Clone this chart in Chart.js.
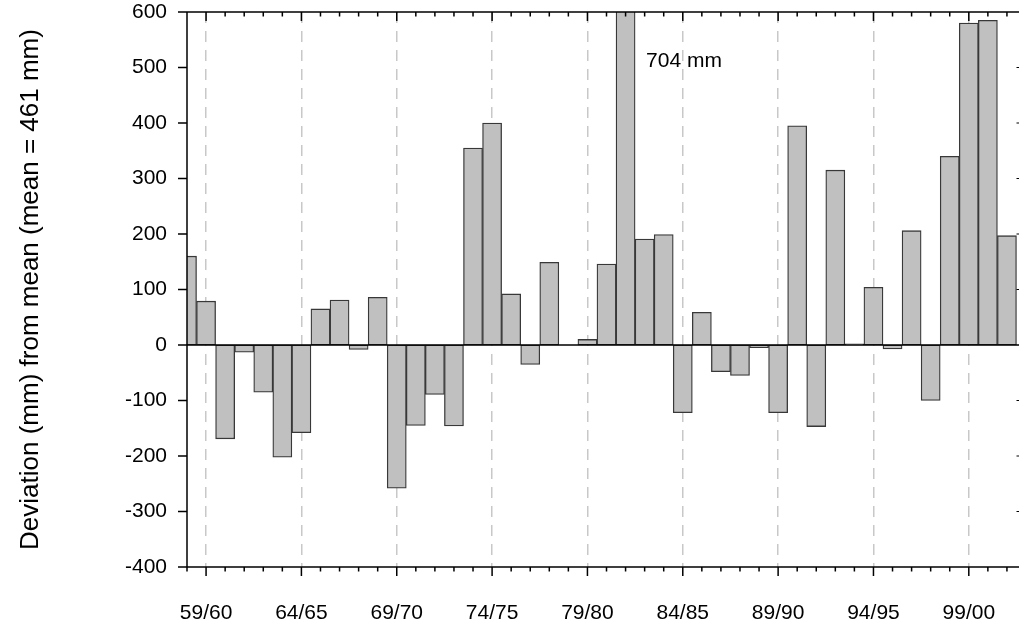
<!DOCTYPE html>
<html>
<head>
<meta charset="utf-8">
<script src="https://cdn.jsdelivr.net/npm/chart.js@4"></script>
<style>
  html, body { margin: 0; padding: 0; background: #fff; }
</style>
</head>
<body>
<canvas id="chart" width="1019" height="625"></canvas>
<script>
// Rainfall seasons, 58/59 through 01/02
const seasons = [
    '58/59', '59/60', '60/61', '61/62', '62/63', '63/64', '64/65', '65/66', '66/67', '67/68',
    '68/69', '69/70', '70/71', '71/72', '72/73', '73/74', '74/75', '75/76', '76/77', '77/78',
    '78/79', '79/80', '80/81', '81/82', '82/83', '83/84', '84/85', '85/86', '86/87', '87/88',
    '88/89', '89/90', '90/91', '91/92', '92/93', '93/94', '94/95', '95/96', '96/97', '97/98',
    '98/99', '99/00', '00/01', '01/02'
];

// Deviation (mm) from the 461 mm mean
const deviation = [
    160, 79, -169, -13, -85, -202, -158, 65, 81, -8,
    86, -258, -145, -89, -146, 355, 400, 92, -35, 149,
    0, 10, 146, 704, 191, 199, -122, 59, -48, -55,
    -5, -122, 395, -147, 315, 2, 104, -7, 206, -100,
    340, 580, 585, 197
];

const majorLabels = ['59/60', '64/65', '69/70', '74/75', '79/80', '84/85', '89/90', '94/95', '99/00'];
const yTicks = [-400, -300, -200, -100, 0, 100, 200, 300, 400, 500, 600];
const peakIndex = 23;   // 81/82 runs off the top

const FONT = '"Liberation Sans", Arial, sans-serif';
const isMajor = i => majorLabels.includes(seasons[i]);

// keep the plot box where the fixed axis sizes put it
const noPad = s => {
    s.paddingLeft = 0;
    s.paddingRight = 0;
    s.paddingTop = 0;
    s.paddingBottom = 0;
};

// axis frame, tick marks and the off-scale note
const framePlugin = {
    id: 'frame',
    afterDatasetsDraw(chart) {
        const { ctx, chartArea: a, scales: { x, y } } = chart;
        ctx.save();
        ctx.strokeStyle = '#000';
        ctx.lineWidth = 1.5;
        ctx.beginPath();
        [600, 0, -400].forEach(v => {
            const py = y.getPixelForValue(v);
            ctx.moveTo(a.left - 9, py);
            ctx.lineTo(chart.width, py);
        });
        ctx.moveTo(a.left, a.top);
        ctx.lineTo(a.left, a.bottom);
        yTicks.forEach(v => {
            const py = y.getPixelForValue(v);
            ctx.moveTo(a.left - 9, py);
            ctx.lineTo(a.left, py);
        });
        seasons.forEach((s, i) => {
            const px = x.getPixelForValue(i);
            const len = isMajor(i) ? 9 : 4.5;
            ctx.moveTo(px, a.top);
            ctx.lineTo(px, a.top + len);
            ctx.moveTo(px, a.bottom);
            ctx.lineTo(px, a.bottom + len);
        });
        ctx.stroke();

        // stubs of the right-hand axis ticks
        ctx.lineWidth = 1;
        ctx.beginPath();
        yTicks.filter(v => v !== 0 && v !== 600 && v !== -400).forEach(v => {
            const py = y.getPixelForValue(v);
            ctx.moveTo(chart.width - 2.5, py);
            ctx.lineTo(chart.width, py);
        });
        ctx.stroke();

        ctx.font = '21px ' + FONT;
        ctx.fillStyle = '#000';
        ctx.textBaseline = 'middle';
        ctx.textAlign = 'left';
        ctx.fillText(deviation[peakIndex] + ' mm', x.getPixelForValue(peakIndex + 0.5) + 11, y.getPixelForValue(512));
        ctx.restore();
    }
};

new Chart(document.getElementById('chart'), {
    type: 'bar',
    data: {
        datasets: [{
            data: deviation.map((v, i) => ({ x: i, y: v })),
            backgroundColor: '#c0c0c0',
            borderColor: '#383838',
            borderWidth: 1.3,
            borderSkipped: false,
            barPercentage: 1,
            categoryPercentage: 1
        }]
    },
    options: {
        responsive: false,
        animation: false,
        layout: { padding: { top: 12, right: 1, left: 0, bottom: 0 } },
        plugins: {
            legend: { display: false },
            tooltip: { enabled: false }
        },
        scales: {
            x: {
                type: 'linear',
                min: 0,
                max: 43.58,
                offset: false,
                afterFit: s => { s.height = 58; noPad(s); },
                afterBuildTicks: s => { s.ticks = seasons.map((_, i) => ({ value: i })); },
                grid: {
                    offset: false,
                    drawTicks: false,
                    color: c => (c.tick && isMajor(Math.round(c.tick.value))) ? '#c8c8c8' : 'rgba(0,0,0,0)',
                    lineWidth: 1.5
                },
                border: { display: false, dash: [11, 8] },
                ticks: {
                    autoSkip: false,
                    maxRotation: 0,
                    padding: 34,
                    color: '#000',
                    font: { family: FONT, size: 21 },
                    callback: v => {
                        const i = Math.round(v);
                        return isMajor(i) ? seasons[i] : '';
                    }
                }
            },
            y: {
                min: -400,
                max: 600,
                afterFit: s => { s.width = 187; noPad(s); },
                afterBuildTicks: s => { s.ticks = yTicks.map(v => ({ value: v })); },
                grid: { display: false, drawTicks: false },
                border: { display: false },
                ticks: {
                    padding: 20,
                    color: '#000',
                    font: { family: FONT, size: 21 }
                },
                title: {
                    display: true,
                    text: 'Deviation (mm) from mean (mean = 461 mm)',
                    color: '#000',
                    font: { family: FONT, size: 26 },
                    padding: { top: 15, bottom: 0 }
                }
            }
        }
    },
    plugins: [framePlugin]
});
</script>
</body>
</html>
